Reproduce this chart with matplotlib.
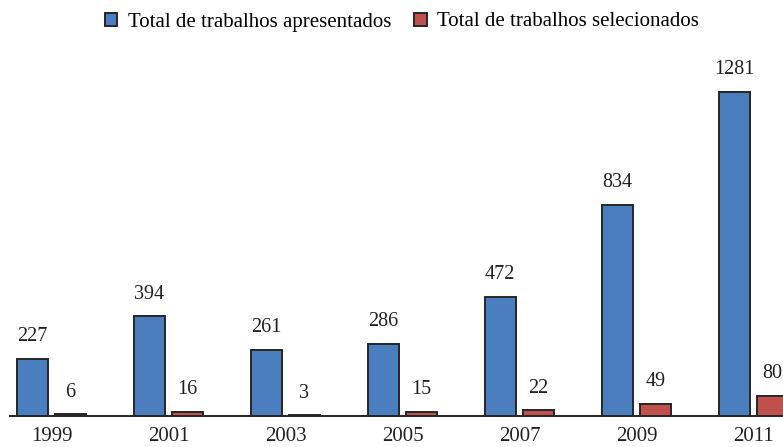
import matplotlib.pyplot as plt
import numpy as np

plt.rcParams['font.family'] = ['Liberation Serif', 'DejaVu Serif']

anos = ['1999', '2001', '2003', '2005', '2007', '2009', '2011']
apresentados = [227, 394, 261, 286, 472, 834, 1281]
selecionados = [6, 16, 3, 15, 22, 49, 80]

cor_azul = '#4A7EBF'
cor_verm = '#C0504D'
borda = '#262626'

fig = plt.figure(figsize=(7.83, 4.47), dpi=100)
ax = fig.add_axes([10 / 783, 31 / 447, 773 / 783, 356 / 447])

x = np.arange(len(anos))
w = 0.265
b1 = ax.bar(x - 0.166, apresentados, w, color=cor_azul, edgecolor=borda,
            linewidth=1.4, label='Total de trabalhos apresentados', clip_on=False)
b2 = ax.bar(x + 0.162, selecionados, w, color=cor_verm, edgecolor=borda,
            linewidth=1.4, label='Total de trabalhos selecionados')

# valores acima das barras
for barras in (b1, b2):
    for r in barras:
        ax.annotate(str(int(r.get_height())),
                    (r.get_x() + r.get_width() / 2, r.get_height()),
                    xytext=(0, 16), textcoords='offset points',
                    ha='center', va='center', fontsize=14.5, color='#222222',
                    annotation_clip=False)

ax.set_xlim(-0.355, 6.252)
ax.set_ylim(0, 1407)
ax.set_xticks(x)
ax.set_xticklabels(anos, fontsize=15, color='#222222')
ax.tick_params(axis='x', length=0, pad=8)
ax.set_yticks([])
for s in ['top', 'left', 'right']:
    ax.spines[s].set_visible(False)
ax.spines['bottom'].set_color(borda)
ax.spines['bottom'].set_linewidth(1.4)

fig.legend(loc='center', bbox_to_anchor=(402 / 783, 1 - 22 / 447), ncol=2,
           frameon=False, fontsize=15, handlelength=0.6, handleheight=0.6,
           handletextpad=0.5, columnspacing=1.1)

fig.savefig('out.png', dpi=100)
